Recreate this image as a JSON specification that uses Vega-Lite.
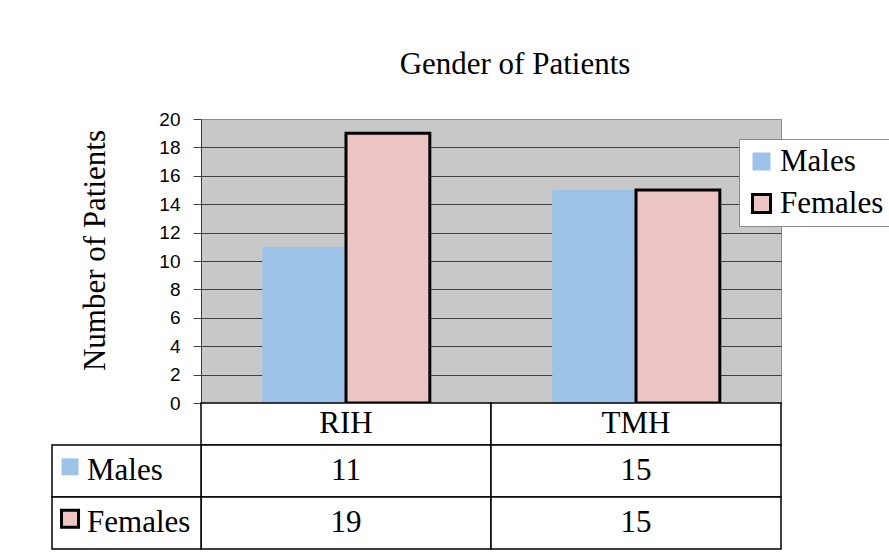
{
  "$schema": "https://vega.github.io/schema/vega-lite/v6.json",
  "width": 580,
  "height": 284,
  "autosize": {"type": "none"},
  "padding": {"left": 201, "top": 119, "right": 108, "bottom": 149},
  "background": "#FFFFFF",
  "title": {
    "text": "Gender of Patients",
    "font": "Liberation Serif",
    "fontSize": 31,
    "fontWeight": "normal",
    "color": "#000000",
    "anchor": "middle",
    "dx": 24,
    "offset": 29
  },
  "data": {
    "values": [
      {"site": "RIH", "gender": "Males", "count": 11},
      {"site": "RIH", "gender": "Females", "count": 19},
      {"site": "TMH", "gender": "Males", "count": 15},
      {"site": "TMH", "gender": "Females", "count": 15}
    ]
  },
  "layer": [
    {
      "mark": {"type": "bar", "strokeWidth": 3},
      "encoding": {
        "x": {
          "field": "site",
          "type": "nominal",
          "scale": {"domain": ["RIH", "TMH"], "paddingInner": 0, "paddingOuter": 0},
          "axis": null
        },
        "xOffset": {
          "field": "gender",
          "type": "nominal",
          "scale": {"domain": ["Males", "Females"], "paddingInner": 0, "paddingOuter": 0.73}
        },
        "y": {
          "field": "count",
          "type": "quantitative",
          "scale": {"domain": [0, 20], "nice": false},
          "axis": {
            "values": [0, 2, 4, 6, 8, 10, 12, 14, 16, 18, 20],
            "grid": true,
            "gridColor": {"condition": {"test": "datum.value === 20", "value": "#8C8C8C"}, "value": "#404040"},
            "gridWidth": 1,
            "domainColor": "#404040",
            "domainWidth": 1,
            "tickColor": "#404040",
            "tickSize": 8,
            "labelFont": "Liberation Sans",
            "labelFontSize": 19,
            "labelColor": "#000000",
            "labelPadding": 13,
            "title": "Number of Patients",
            "titleFont": "Liberation Serif",
            "titleFontSize": 31,
            "titleFontWeight": "normal",
            "titleColor": "#000000",
            "titleX": -106,
            "titleY": 131,
            "titleAlign": "center",
            "titleBaseline": "middle",
            "titleAngle": -90
          }
        },
        "color": {
          "field": "gender",
          "type": "nominal",
          "scale": {"domain": ["Males", "Females"], "range": ["#9EC3E9", "#ECC4C4"]},
          "legend": {
            "title": null,
            "orient": "none",
            "legendX": 538,
            "legendY": 20,
            "fillColor": "#FFFFFF",
            "strokeColor": "#888888",
            "padding": 7,
            "symbolType": "square",
            "symbolSize": 324,
            "symbolStrokeWidth": 3,
            "labelFont": "Liberation Serif",
            "labelFontSize": 31,
            "labelColor": "#000000",
            "labelOffset": 3,
            "rowPadding": 10,
            "encode": {
              "symbols": {
                "update": {
                  "stroke": {"signal": "datum.value === 'Females' ? '#000000' : 'transparent'"},
                  "strokeWidth": {"value": 3}
                }
              }
            }
          }
        },
        "stroke": {
          "field": "gender",
          "type": "nominal",
          "scale": {"domain": ["Males", "Females"], "range": ["transparent", "#000000"]},
          "legend": null
        }
      }
    },
    {
      "transform": [{"filter": "datum.gender === 'Males'"}],
      "encoding": {
        "x": {
          "field": "site",
          "type": "nominal",
          "scale": {"domain": ["RIH", "TMH"], "paddingInner": 0, "paddingOuter": 0},
          "axis": null
        },
        "y": {
          "field": "gender",
          "type": "nominal",
          "scale": {"domain": ["Males"], "range": [284, 326], "paddingInner": 0, "paddingOuter": 0},
          "axis": null
        }
      },
      "layer": [
        {"mark": {"type": "rect", "fill": "#FFFFFF", "stroke": "#000000", "strokeWidth": 1.5}},
        {
          "mark": {"type": "text", "font": "Liberation Serif", "fontSize": 31, "color": "#000000"},
          "encoding": {"text": {"field": "site"}}
        }
      ]
    },
    {
      "encoding": {
        "x": {
          "field": "site",
          "type": "nominal",
          "scale": {"domain": ["RIH", "TMH"], "paddingInner": 0, "paddingOuter": 0},
          "axis": null
        },
        "y": {
          "field": "gender",
          "type": "nominal",
          "scale": {"domain": ["Males", "Females"], "range": [326, 430], "paddingInner": 0, "paddingOuter": 0},
          "axis": null
        }
      },
      "layer": [
        {"mark": {"type": "rect", "fill": "#FFFFFF", "stroke": "#000000", "strokeWidth": 1.5}},
        {
          "mark": {"type": "text", "font": "Liberation Serif", "fontSize": 31, "color": "#000000"},
          "encoding": {"text": {"field": "count"}}
        }
      ]
    },
    {
      "transform": [{"filter": "datum.site === 'RIH'"}],
      "encoding": {
        "x": {
          "field": "site",
          "type": "nominal",
          "scale": {"domain": ["RIH"], "range": [-149, 0], "paddingInner": 0, "paddingOuter": 0},
          "axis": null
        },
        "y": {
          "field": "gender",
          "type": "nominal",
          "scale": {"domain": ["Males", "Females"], "range": [326, 430], "paddingInner": 0, "paddingOuter": 0},
          "axis": null
        }
      },
      "layer": [
        {"mark": {"type": "rect", "fill": "#FFFFFF", "stroke": "#000000", "strokeWidth": 1.5}},
        {
          "mark": {"type": "square", "size": 289, "strokeWidth": 3, "opacity": 1},
          "encoding": {
            "x": {"field": "site", "type": "nominal", "bandPosition": 0.121},
            "y": {"field": "gender", "type": "nominal", "bandPosition": 0.42},
            "color": {"field": "gender", "type": "nominal"},
            "stroke": {"field": "gender", "type": "nominal"}
          }
        },
        {
          "mark": {"type": "text", "font": "Liberation Serif", "fontSize": 31, "color": "#000000", "align": "left"},
          "encoding": {
            "x": {"field": "site", "type": "nominal", "bandPosition": 0.235},
            "text": {"field": "gender"}
          }
        }
      ]
    }
  ],
  "resolve": {"scale": {"x": "independent", "y": "independent"}},
  "config": {
    "view": {"fill": "#C8C8C8", "stroke": "#8C8C8C", "strokeWidth": 1}
  }
}
